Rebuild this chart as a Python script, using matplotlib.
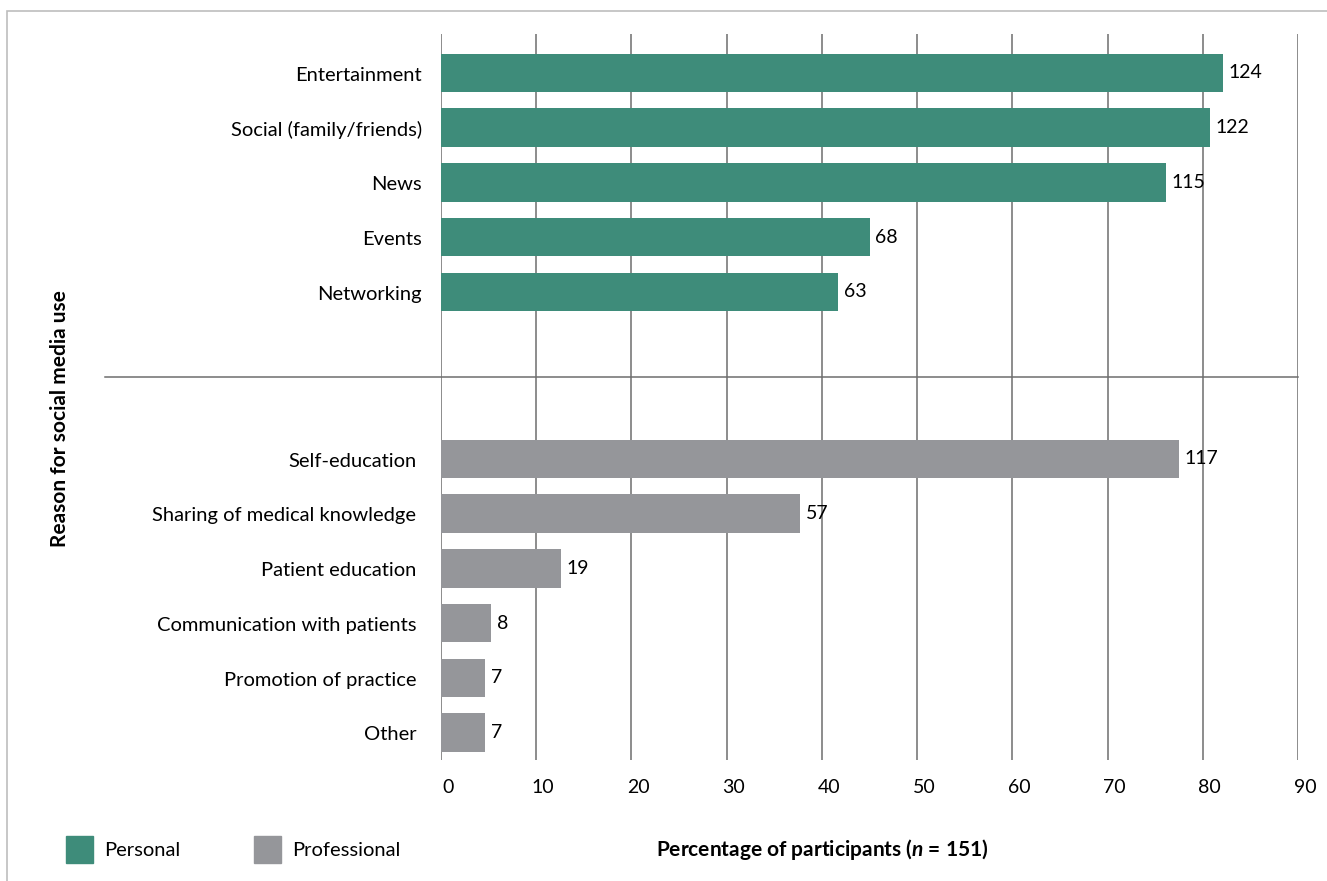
import matplotlib.pyplot as plt
from matplotlib.patches import Rectangle
from matplotlib.transforms import ScaledTranslation

plt.rcParams['font.family'] = ['Lato', 'DejaVu Sans']
plt.rcParams['mathtext.fontset'] = 'custom'
plt.rcParams['mathtext.it'] = 'Lato:italic:bold'
plt.rcParams['mathtext.rm'] = 'Lato:bold'

N = 151
personal = ["Entertainment", "Social (family/friends)", "News", "Events", "Networking"]
personal_n = [124, 122, 115, 68, 63]
professional = ["Self-education", "Sharing of medical knowledge", "Patient education",
                "Communication with patients", "Promotion of practice", "Other"]
professional_n = [117, 57, 19, 8, 7, 7]
xticks = [0, 10, 20, 30, 40, 50, 60, 70, 80, 90]

green = "#3e8c7a"
grey = "#95969a"
W, H = 1327, 881

fig = plt.figure(figsize=(W / 100, H / 100), dpi=100)
ax = fig.add_axes([441 / W, 1 - 760 / H, (1298 - 441) / W, (760 - 34) / H])

# figure frame
fig.patches.append(Rectangle((7 / W, -0.1), 1.2, 1 - 11 / H + 0.1, transform=fig.transFigure,
                             fill=False, edgecolor="#bdbdbd", linewidth=1.2))

y_pers = [i for i in range(len(personal))]
y_prof = [7.05 + i for i in range(len(professional))]

for xt in xticks:
    ax.axvline(xt, color="#6e6e6e", linewidth=1.1, zorder=1)

pct_pers = [v / N * 100 for v in personal_n]
pct_prof = [v / N * 100 for v in professional_n]
ax.barh(y_pers, pct_pers, height=0.7, color=green, zorder=2)
ax.barh(y_prof, pct_prof, height=0.7, color=grey, zorder=2)

for y, p, v in zip(y_pers, pct_pers, personal_n):
    ax.annotate(str(v), (p, y), xytext=(4, 0), textcoords="offset points",
                va="center", ha="left", fontsize=14)
for y, p, v in zip(y_prof, pct_prof, professional_n):
    ax.annotate(str(v), (p, y), xytext=(4, 0), textcoords="offset points",
                va="center", ha="left", fontsize=14)

for y, lab in zip(y_pers, personal):
    ax.text(-2.0, y + 0.04, lab, ha="right", va="center", fontsize=14.5, clip_on=False)
for y, lab in zip(y_prof, professional):
    ax.text(-2.6, y + 0.04, lab, ha="right", va="center", fontsize=14.5, clip_on=False)

# separator between groups
ax.plot([-35.3, 90], [5.55, 5.55], color="#6e6e6e", linewidth=1.1, clip_on=False, zorder=1)

ax.set_xlim(0, 90)
ax.set_ylim(12.55, -0.71)
ax.set_xticks(xticks)
ax.set_yticks([])
ax.tick_params(axis="x", length=0, pad=14, labelsize=14)
shift = ScaledTranslation(7 / 100, 0, fig.dpi_scale_trans)
for lbl in ax.get_xticklabels():
    lbl.set_transform(lbl.get_transform() + shift)
for s in ax.spines.values():
    s.set_visible(False)

fig.text(60 / W, 1 - 419 / H, "Reason for social media use", rotation=90, ha="center",
         va="center", fontsize=15, fontweight="bold")
fig.text(822 / W, 1 - 850 / H, r"Percentage of participants ($n$ = 151)", ha="center",
         va="center", fontsize=15, fontweight="bold")

# legend
for x0, col, lab in [(66, green, "Personal"), (254, grey, "Professional")]:
    fig.patches.append(Rectangle((x0 / W, 1 - 863 / H), 27 / W, 27 / H,
                                 transform=fig.transFigure, color=col))
    fig.text((x0 + 38) / W, 1 - 850 / H, lab, ha="left", va="center", fontsize=14.5)

fig.savefig("out.png", dpi=100)
